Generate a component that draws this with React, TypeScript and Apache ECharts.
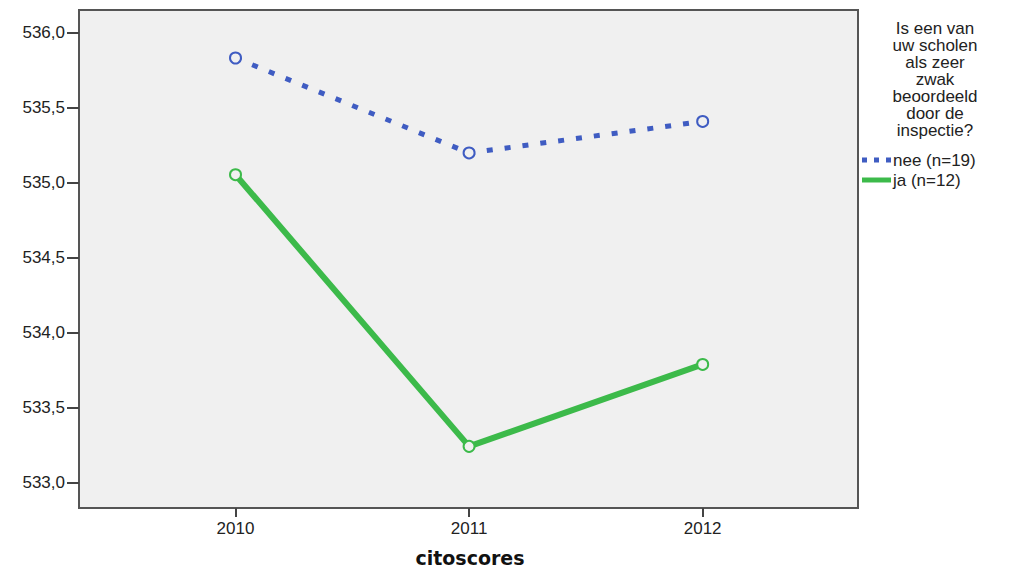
import React, { useEffect, useRef } from "react";
import * as echarts from "echarts";

const years = [2010, 2011, 2012];
const seriesNames = ["nee (n=19)", "ja (n=12)"];
const neeValues = [535.833, 535.2, 535.41];
const jaValues = [535.055, 533.244, 533.79];
const yTicks = [533.0, 533.5, 534.0, 534.5, 535.0, 535.5, 536.0];
const legendTitle = ["Is een van", "uw scholen", "als zeer", "zwak", "beoordeeld", "door de", "inspectie?"];
const xAxisTitle = "citoscores";

const FONT = "'Liberation Sans', Arial, sans-serif";
const BLUE = "#3f5cc2";
const GREEN = "#3cba4a";

export default function App() {
  const ref = useRef<HTMLDivElement>(null);
  useEffect(() => {
    document.body.style.margin = "0";
    const chart = echarts.init(ref.current!, null, { renderer: "svg" });
    const mk = (vals: number[]) => years.map((y, i) => [y, vals[i]]);
    chart.setOption({
      animation: false,
      backgroundColor: "#ffffff",
      textStyle: { fontFamily: FONT },
      grid: {
        left: 79,
        top: 10,
        right: 156,
        bottom: 61,
        containLabel: false,
        outerBoundsMode: "none",
        show: true,
        backgroundColor: "#f0f0f0",
        borderColor: "#555555",
        borderWidth: 2,
      },
      xAxis: {
        type: "value",
        min: 2009.33,
        max: 2012.665,
        splitLine: { show: false },
        axisLine: { show: true, onZero: false, lineStyle: { color: "#555", width: 2 } },
        axisTick: { show: true, customValues: years, length: 9, lineStyle: { color: "#444", width: 2 } },
        axisLabel: {
          customValues: years,
          margin: 12,
          fontSize: 17,
          color: "#222",
          fontFamily: FONT,
          formatter: (v: number) => String(Math.round(v)),
        },
      },
      yAxis: {
        type: "value",
        min: 532.833,
        max: 536.153,
        splitLine: { show: false },
        axisLine: { show: true, lineStyle: { color: "#555", width: 2 } },
        axisTick: { show: true, customValues: yTicks, length: 12, lineStyle: { color: "#444", width: 2 } },
        axisLabel: {
          customValues: yTicks,
          margin: 14,
          fontSize: 17,
          color: "#222",
          fontFamily: FONT,
          formatter: (v: number) => v.toFixed(1).replace(".", ","),
        },
      },
      series: [
        {
          name: seriesNames[0],
          type: "line",
          data: mk(neeValues),
          symbol: "circle",
          symbolSize: 11,
          itemStyle: { color: "#f0f0f0", borderColor: BLUE, borderWidth: 2 },
          lineStyle: { color: BLUE, width: 5, type: [6, 12] },
        },
        {
          name: seriesNames[1],
          type: "line",
          data: mk(jaValues),
          symbol: "circle",
          symbolSize: 11,
          itemStyle: { color: "#f0f0f0", borderColor: GREEN, borderWidth: 2 },
          lineStyle: { color: GREEN, width: 6 },
        },
      ],
      graphic: [
        {
          type: "text",
          x: 470,
          y: 558,
          style: {
            text: xAxisTitle,
            fontFamily: "'DejaVu Sans', Verdana, sans-serif",
            fontSize: 19,
            fontWeight: "bold",
            fill: "#111",
            align: "center",
            verticalAlign: "middle",
          },
        },
        {
          type: "text",
          x: 935,
          y: 20,
          style: {
            text: legendTitle.join("\n"),
            fontFamily: FONT,
            fontSize: 17,
            lineHeight: 17,
            fill: "#222",
            align: "center",
          },
        },
        {
          type: "line",
          shape: { x1: 862, y1: 160, x2: 891, y2: 160 },
          style: { stroke: BLUE, lineWidth: 5, lineDash: [5, 7] },
        },
        {
          type: "text",
          x: 893,
          y: 160,
          style: { text: seriesNames[0], fontFamily: FONT, fontSize: 17, fill: "#222", verticalAlign: "middle" },
        },
        {
          type: "line",
          shape: { x1: 862, y1: 180, x2: 891, y2: 180 },
          style: { stroke: GREEN, lineWidth: 5 },
        },
        {
          type: "text",
          x: 893,
          y: 180,
          style: { text: seriesNames[1], fontFamily: FONT, fontSize: 17, fill: "#222", verticalAlign: "middle" },
        },
      ],
    });
    return () => chart.dispose();
  }, []);
  return <div ref={ref} style={{ width: 1014, height: 569 }} />;
}
